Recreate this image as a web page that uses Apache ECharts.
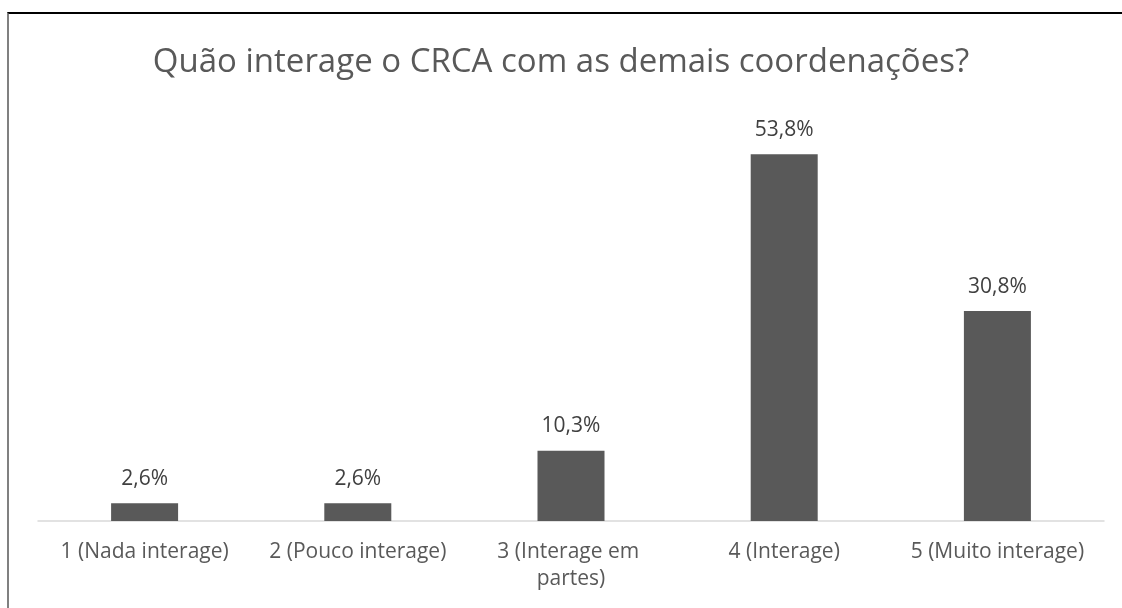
<!DOCTYPE html>
<html>
<head>
<meta charset="utf-8">
<script src="https://cdn.jsdelivr.net/npm/echarts@6/dist/echarts.min.js"></script>
<style>
  html, body { margin: 0; padding: 0; background: #fff; }
  #frame { position: absolute; left: 7px; top: 12px; width: 1130px; height: 610px;
    border-top: 2px solid #000; border-left: 2px solid #808080; box-sizing: border-box; }
  #chart { position: absolute; left: 0; top: 0; width: 1122px; height: 608px; }
</style>
</head>
<body>
<div id="frame"></div>
<div id="chart"></div>
<script>
// categorias e valores (%)
const categories = ["1 (Nada interage)", "2 (Pouco interage)", "3 (Interage em partes)", "4 (Interage)", "5 (Muito interage)"];
const values = [2.6, 2.6, 10.3, 53.8, 30.8];
const titleText = "Quão interage o CRCA com as demais coordenações?";

const chart = echarts.init(document.getElementById("chart"));
const fontFamily = "'Open Sans', 'Noto Sans', sans-serif";

chart.setOption({
  backgroundColor: "transparent",
  animation: false,
  title: {
    text: titleText,
    left: "center",
    top: 41,
    textStyle: { color: "#595959", fontSize: 33, fontWeight: "normal", fontFamily },
  },
  grid: { left: 38, right: 18, top: 112, bottom: 87 },
  xAxis: {
    type: "category",
    data: categories,
    axisTick: { show: false },
    axisLine: { lineStyle: { color: "#d9d9d9", width: 1.5 } },
    axisLabel: {
      color: "#595959",
      fontSize: 21,
      fontFamily,
      margin: 18,
      lineHeight: 27,
      width: 190,
      overflow: "break",
      interval: 0,
    },
  },
  yAxis: {
    type: "value",
    min: 0,
    max: 60,
    show: false,
    splitLine: { show: false },
  },
  series: [
    {
      type: "bar",
      data: values,
      barWidth: 67,
      itemStyle: { color: "#595959" },
      label: {
        show: true,
        position: "top",
        distance: 14,
        color: "#404040",
        fontSize: 21,
        fontFamily,
        formatter: (p) => p.value.toFixed(1).replace(".", ",") + "%",
      },
    },
  ],
});
</script>
</body>
</html>
